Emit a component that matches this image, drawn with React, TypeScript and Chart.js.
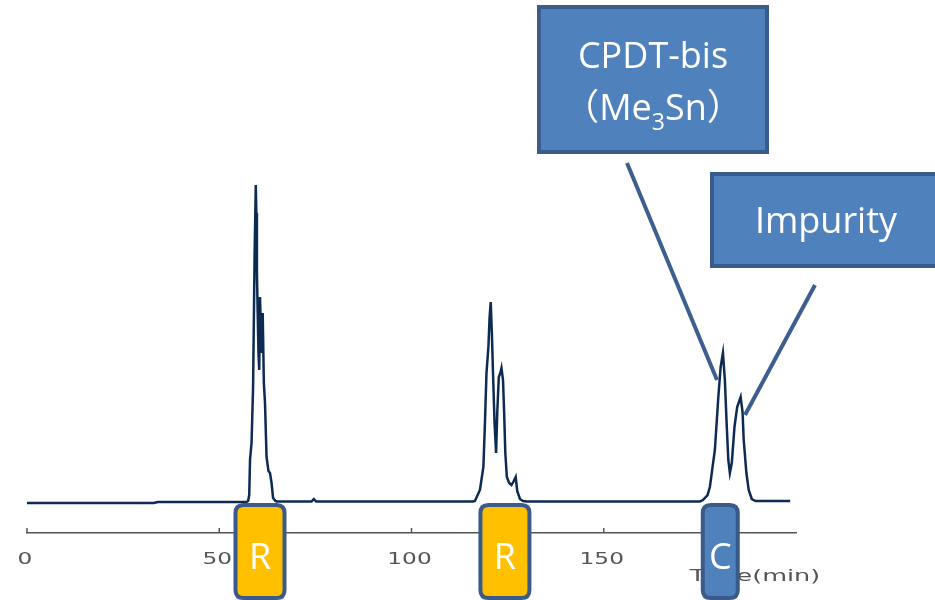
import React, { useEffect, useRef } from "react";
import { Chart, registerables } from "chart.js";

Chart.register(...registerables);

// Chromatogram: retention time (min) and detector signal (arbitrary units)
const timeMin = [
  0, 33, 34, 57, 57.5, 57.8, 58.0, 58.4, 58.8, 59.2, 59.5, 59.65, 59.8, 60.2, 60.4, 60.6, 61.0, 61.3, 61.6,
  61.9, 62.3, 62.8, 63.2, 63.6, 64.0, 64.6, 65, 74, 74.6, 75.2, 116, 116.5, 117.8, 118.7, 119.1,
  119.5, 120.0, 120.3, 120.6, 120.9, 121.2, 121.6, 122.0, 122.3, 122.7, 123.1, 123.4, 123.8, 124.1,
  124.4, 124.8, 125.4, 126.0, 126.6, 127.1, 127.5, 128.2, 129, 130, 175, 175.8, 177.0, 177.6, 178.9,
  179.8, 180.4, 181.0, 181.5, 182.0, 182.4, 182.8, 183.3, 184.0, 184.7, 185.6, 186.1, 186.4, 187.1,
  187.7, 188.5, 189.5, 198.5,
];
const signal = [
  0, 0, 1, 1, 2, 8, 43, 60, 116, 250, 318, 290, 230, 150, 133, 206, 150, 190, 120,
  100, 46, 32, 30, 20, 5, 2, 1.5, 1.5, 4, 1.5, 1.5, 2, 13, 36, 80,
  130, 156, 185, 201, 170, 130, 80, 50, 90, 126, 130, 135, 123, 90,
  50, 26, 20, 18, 22, 26, 12, 4, 2, 1.5, 1.5, 3, 8, 16, 53,
  106, 136, 150, 123, 76, 43, 30, 40, 76, 96, 106, 91, 63, 30,
  13, 4, 2, 2,
];

const xTicks = [0, 50, 100, 150];
const axisTitle = "Time(min)";

// Fraction markers under the peaks
const markerTimes = [60.6, 124.3, 180.3];
const markerLabels = ["R", "R", "C"];
const markerFills = ["#ffc000", "#ffc000", "#4f81bd"];

// Peak annotations
const cpdtLine1 = "CPDT-bis";
const cpdtLine2 = ["（Me", "3", "Sn）"];
const impurityLabel = "Impurity";

function roundRect(ctx: CanvasRenderingContext2D, x: number, y: number, w: number, h: number, r: number) {
  ctx.beginPath();
  ctx.moveTo(x + r, y);
  ctx.lineTo(x + w - r, y);
  ctx.quadraticCurveTo(x + w, y, x + w, y + r);
  ctx.lineTo(x + w, y + h - r);
  ctx.quadraticCurveTo(x + w, y + h, x + w - r, y + h);
  ctx.lineTo(x + r, y + h);
  ctx.quadraticCurveTo(x, y + h, x, y + h - r);
  ctx.lineTo(x, y + r);
  ctx.quadraticCurveTo(x, y, x + r, y);
  ctx.closePath();
}

const overlayPlugin = {
  id: "overlay",
  afterDraw(chart: any) {
    const ctx: CanvasRenderingContext2D = chart.ctx;
    const xs = chart.scales.x;
    const area = chart.chartArea;
    ctx.save();

    // upward tick marks
    ctx.strokeStyle = "#555";
    ctx.lineWidth = 1.5;
    xTicks.forEach((t) => {
      const px = xs.getPixelForValue(t);
      ctx.beginPath();
      ctx.moveTo(px, area.bottom);
      ctx.lineTo(px, area.bottom - 5);
      ctx.stroke();
    });

    // tick labels (wide, stretched)
    ctx.fillStyle = "#555";
    ctx.font = '15px "DejaVu Sans"';
    ctx.textAlign = "center";
    ctx.textBaseline = "middle";
    xTicks.forEach((t) => {
      const px = xs.getPixelForValue(t);
      ctx.save();
      ctx.translate(px - 2, area.bottom + 27);
      ctx.scale(1.55, 1);
      ctx.fillText(String(t), 0, 0);
      ctx.restore();
    });

    // axis title
    ctx.save();
    ctx.translate(area.right - 41, area.bottom + 44);
    ctx.scale(1.7, 1);
    ctx.fillText(axisTitle, 0, 0);
    ctx.restore();

    // marker boxes
    markerTimes.forEach((t, i) => {
      const cx = xs.getPixelForValue(t);
      const w = markerLabels[i] === "C" ? 35 : 49;
      roundRect(ctx, cx - w / 2, area.bottom - 28, w, 93, 8);
      ctx.fillStyle = markerFills[i];
      ctx.fill();
      ctx.lineWidth = 4;
      ctx.strokeStyle = "#3b5a8a";
      ctx.stroke();
      ctx.fillStyle = "#ffffff";
      ctx.font = '36px "Open Sans"';
      ctx.textAlign = "center";
      ctx.textBaseline = "alphabetic";
      ctx.fillText(markerLabels[i], cx, area.bottom + 36);
    });

    // callout lines
    ctx.strokeStyle = "#3d5f8f";
    ctx.lineWidth = 4;
    ctx.lineCap = "butt";
    ctx.beginPath();
    ctx.moveTo(627, 163);
    ctx.lineTo(717, 380);
    ctx.moveTo(815, 285);
    ctx.lineTo(745, 415);
    ctx.stroke();

    // CPDT box
    ctx.fillStyle = "#4f81bd";
    ctx.strokeStyle = "#385d8a";
    ctx.lineWidth = 4;
    ctx.fillRect(539, 7, 228, 145);
    ctx.strokeRect(539, 7, 228, 145);
    ctx.fillStyle = "#ffffff";
    ctx.textAlign = "center";
    ctx.textBaseline = "alphabetic";
    ctx.font = '36px "Open Sans"';
    ctx.fillText(cpdtLine1, 653, 68);
    const bigFont = '36px "Open Sans", "Noto Sans CJK JP"';
    const subFont = '23px "Open Sans"';
    ctx.font = bigFont;
    const w1 = ctx.measureText(cpdtLine2[0]).width;
    const w3 = ctx.measureText(cpdtLine2[2]).width;
    ctx.font = subFont;
    const w2 = ctx.measureText(cpdtLine2[1]).width;
    let sx = 653 - (w1 + w2 + w3) / 2;
    ctx.textAlign = "left";
    ctx.font = bigFont;
    ctx.fillText(cpdtLine2[0], sx, 120);
    sx += w1;
    ctx.font = subFont;
    ctx.fillText(cpdtLine2[1], sx, 130);
    sx += w2;
    ctx.font = bigFont;
    ctx.fillText(cpdtLine2[2], sx, 120);

    // Impurity box
    ctx.fillStyle = "#4f81bd";
    ctx.strokeStyle = "#385d8a";
    ctx.fillRect(712, 174, 240, 92);
    ctx.strokeRect(712, 174, 240, 92);
    ctx.fillStyle = "#ffffff";
    ctx.textAlign = "center";
    ctx.font = '36px "Open Sans"';
    ctx.fillText(impurityLabel, 826, 233);

    ctx.restore();
  },
};

export default function App() {
  const canvasRef = useRef<HTMLCanvasElement | null>(null);

  useEffect(() => {
    if (!canvasRef.current) return;
    const chart = new Chart(canvasRef.current, {
      type: "line",
      data: {
        datasets: [
          {
            data: timeMin.map((t, i) => ({ x: t, y: signal[i] })),
            borderColor: "#0d2a52",
            borderWidth: 2.5,
            pointRadius: 0,
            tension: 0,
            fill: false,
          },
        ],
      },
      options: {
        animation: false,
        responsive: true,
        maintainAspectRatio: false,
        layout: { padding: { left: 27, right: 139, top: 0, bottom: 0 } },
        plugins: { legend: { display: false }, tooltip: { enabled: false } },
        scales: {
          x: {
            type: "linear",
            min: 0,
            max: 200,
            grid: { display: false, drawTicks: false },
            border: { display: true, color: "#555", width: 1.5 },
            ticks: { display: false },
            afterFit: (s: any) => {
              s.height = 67;
            },
          },
          y: { display: false, min: -30, max: 503 },
        },
      },
      plugins: [overlayPlugin],
    } as any);
    return () => chart.destroy();
  }, []);

  return (
    <div style={{ position: "fixed", left: 0, top: 0, width: 935, height: 600, background: "#fff" }}>
      <canvas ref={canvasRef} />
    </div>
  );
}
